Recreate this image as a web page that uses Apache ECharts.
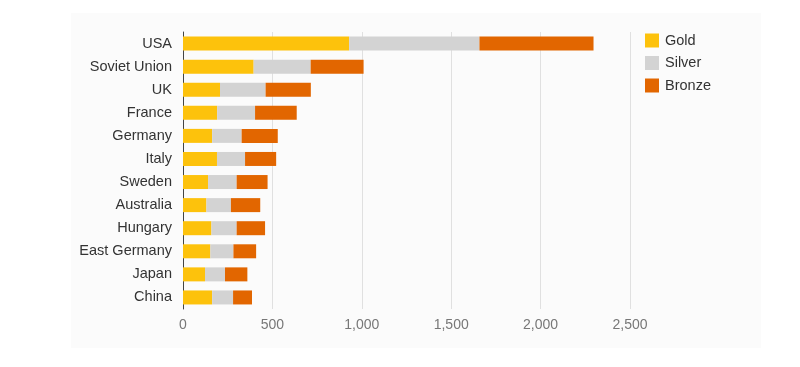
<!DOCTYPE html>
<html>
<head>
<meta charset="utf-8">
<script src="https://cdn.jsdelivr.net/npm/echarts@6/dist/echarts.min.js"></script>
<style>
html,body{margin:0;padding:0;background:#ffffff;}
#chart{width:800px;height:367px;}
</style>
</head>
<body>
<div id="chart"></div>
<script>
const countries = ["USA","Soviet Union","UK","France","Germany","Italy","Sweden","Australia","Hungary","East Germany","Japan","China"];
const gold   = [929, 395, 207, 191, 163, 190, 140, 131, 159, 153, 123, 163];
const silver = [729, 319, 255, 212, 165, 157, 160, 137, 141, 129, 112, 117];
const bronze = [638, 296, 253, 233, 202, 174, 173, 164, 159, 127, 125, 106];
const xTicks = [0, 500, 1000, 1500, 2000, 2500];

const chart = echarts.init(document.getElementById('chart'));
const font = "'Liberation Sans', Arial, sans-serif";
const mk = (name, data, color) => ({
  name, type: 'bar', stack: 'm', data, barWidth: 14,
  itemStyle: { color }, emphasis: { disabled: true }
});
chart.setOption({
  animation: false,
  backgroundColor: '#ffffff',
  graphic: [{
    type: 'rect', z: -10, silent: true,
    shape: { x: 71, y: 13, width: 690, height: 335 },
    style: { fill: '#fbfbfb' }
  }],
  grid: { left: 183, right: 170, top: 32, bottom: 58, containLabel: false },
  legend: {
    orient: 'vertical', left: 645, top: 33, padding: 0,
    itemWidth: 14, itemHeight: 14, itemGap: 7.5,
    icon: 'rect',
    textStyle: { fontFamily: font, fontSize: 14.5, color: '#333', padding: [0, 0, 0, 1] },
    data: ['Gold', 'Silver', 'Bronze']
  },
  xAxis: {
    type: 'value', min: 0, max: 2500, interval: 500,
    axisLine: { show: false },
    axisTick: { show: false },
    splitLine: { lineStyle: { color: '#e0e0e0', width: 1 } },
    axisLabel: {
      margin: 9, color: '#777', fontFamily: font, fontSize: 14,
      formatter: v => xTicks.includes(v) ? v.toLocaleString('en-US') : ''
    }
  },
  yAxis: {
    type: 'category', inverse: true, data: countries,
    axisLine: { show: true, lineStyle: { color: '#444', width: 1 } },
    axisTick: { show: false },
    axisLabel: { margin: 11, color: '#333', fontFamily: font, fontSize: 14.5 }
  },
  series: [
    mk('Gold', gold, '#fdc20c'),
    mk('Silver', silver, '#d3d3d3'),
    mk('Bronze', bronze, '#e26600')
  ]
});
</script>
</body>
</html>
